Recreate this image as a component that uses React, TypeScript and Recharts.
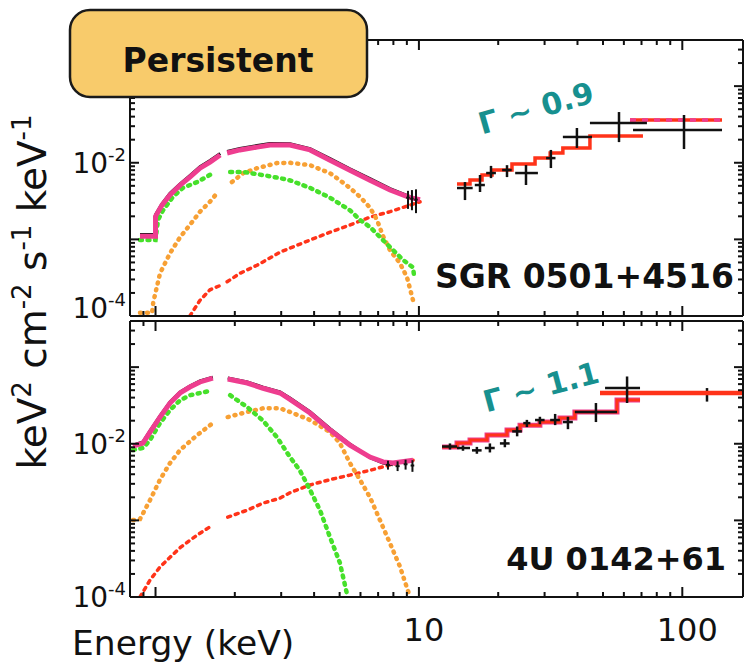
import React from 'react';
import { ComposedChart, Line, Scatter, XAxis, YAxis, ErrorBar } from 'recharts';

type Pt = [number, number | null];
type ErrPt = [number, number, number, number, number, number]; // e, v, eLo, eHi, vLo, vHi

// ---------- axes ----------
const xDomain = [0.8, 170];
const yDomain = [0.0001, 0.4];
const xTicks = [0.8, 0.9, 1, 2, 3, 4, 5, 6, 7, 8, 9, 10, 20, 30, 40, 50, 60, 70, 80, 90, 100];
const xMajorTicks = [1, 10, 100];
const xTickLabels = [10, 100];
const yTicks = [
  0.0001, 0.0002, 0.0003, 0.0004, 0.0005, 0.0006, 0.0007, 0.0008, 0.0009,
  0.001, 0.002, 0.003, 0.004, 0.005, 0.006, 0.007, 0.008, 0.009,
  0.01, 0.02, 0.03, 0.04, 0.05, 0.06, 0.07, 0.08, 0.09,
  0.1, 0.2, 0.3, 0.4,
];
const yMajorTicks = [0.0001, 0.001, 0.01, 0.1];
const yTickLabels = [0.01, 0.0001];
const yTickExponents = ['-2', '-4'];

// ---------- SGR 0501+4516 (top) ----------
const sgrData: Pt[] = [
  [0.873, 0.00116], [1.0, 0.00116], [1.0, 0.0021], [1.058, 0.0029], [1.135, 0.004], [1.24, 0.0053],
  [1.35, 0.0068], [1.475, 0.0089], [1.61, 0.0107], [1.76, 0.0132], [1.8, null], [1.87, 0.014],
  [2.09, 0.0154], [2.43, 0.0168], [2.72, 0.0178], [3.24, 0.0177], [3.86, 0.0153], [4.6, 0.0113],
  [5.47, 0.0083], [6.52, 0.0062], [7.77, 0.0046], [9.25, 0.0036],
];
const sgrTotal: Pt[] = [
  [0.873, 0.0011], [1.0, 0.0011], [1.0, 0.002], [1.058, 0.0028], [1.135, 0.0038], [1.24, 0.0051],
  [1.35, 0.0065], [1.475, 0.0085], [1.61, 0.0102], [1.76, 0.0126], [1.8, null], [1.87, 0.0134],
  [2.09, 0.0147], [2.43, 0.016], [2.72, 0.017], [3.24, 0.017], [3.86, 0.0147], [4.6, 0.0108],
  [5.47, 0.008], [6.52, 0.0059], [7.77, 0.0044], [9.25, 0.0035], [10.1, 0.0033],
];
const sgrGreen: Pt[] = [
  [0.873, 0.00098], [1.0, 0.00098], [1.022, 0.0018], [1.068, 0.0024], [1.165, 0.0036], [1.27, 0.0047],
  [1.44, 0.0056], [1.65, 0.0073], [1.8, null], [1.92, 0.0076], [2.15, 0.0076], [2.56, 0.0069],
  [2.97, 0.0063], [3.24, 0.0059], [3.86, 0.0047], [4.6, 0.0035], [5.47, 0.0024], [5.97, 0.0018],
  [6.52, 0.00145], [7.12, 0.00107], [7.77, 0.00079], [8.7, 0.00054], [9.5, 0.00043], [9.6, 0.00032],
];
const sgrOrange: Pt[] = [
  [0.873, 0.00011], [0.97, 0.00011], [0.98, 0.00015], [1.04, 0.00036], [1.135, 0.00066], [1.24, 0.00107],
  [1.35, 0.00154], [1.475, 0.0023], [1.61, 0.0031], [1.73, 0.0042], [1.8, null], [1.95, 0.0056],
  [2.15, 0.0073], [2.43, 0.0085], [2.89, 0.0099], [3.24, 0.01], [3.86, 0.0093], [4.6, 0.0073],
  [5.01, 0.0059], [5.47, 0.0047], [5.97, 0.0036], [6.52, 0.0026], [6.93, 0.0018], [7.31, 0.0011],
  [7.77, 0.00072], [8.47, 0.00049], [9.01, 0.00032], [9.5, 0.00016],
];
const sgrRed: Pt[] = [
  [1.35, 0.0001], [1.475, 0.00016], [1.61, 0.00022], [1.76, 0.00025], [1.8, null], [1.87, 0.00028],
  [2.09, 0.00036], [2.43, 0.00046], [2.97, 0.00068], [3.24, 0.00077], [3.86, 0.00098], [4.6, 0.00124],
  [5.47, 0.00154], [6.52, 0.00195], [7.77, 0.0023], [9.25, 0.0028], [10.1, 0.0031],
];
const sgrXisEdge: ErrPt[] = [
  [9.09, 0.0035, 8.95, 9.23, 0.0025, 0.0043],
  [9.41, 0.0034, 9.27, 9.55, 0.0024, 0.0044],
  [9.75, 0.0033, 9.6, 9.9, 0.0022, 0.0045],
];
const sgrHxdModel: Pt[] = [
  [13.95, 0.00527], [15.63, 0.00594], [17.36, 0.00692], [18.95, 0.00803], [22.56, 0.0096],
  [27.6, 0.0115], [31.5, 0.0134], [35.2, 0.0156], [44.6, 0.0223], [70.9, 0.0223],
];
const sgrHxdTop: Pt[] = [[63.3, 0.0361], [141.5, 0.0361]];
const sgrHxdPoints: ErrPt[] = [
  [14.96, 0.00468, 13.95, 16.0, 0.00326, 0.0056],
  [17.06, 0.00512, 16.3, 17.8, 0.00415, 0.00692],
  [18.78, 0.00734, 18.0, 19.6, 0.0063, 0.0091],
  [21.6, 0.00803, 20.7, 22.5, 0.0065, 0.0093],
  [25.5, 0.00734, 23.2, 28.3, 0.00512, 0.00933],
  [31.7, 0.0115, 30.4, 33.0, 0.00853, 0.0147],
  [39.8, 0.0217, 35.2, 45.4, 0.0156, 0.0284],
  [57.5, 0.033, 44.6, 73.4, 0.0186, 0.0459],
  [101.5, 0.0267, 65.0, 141.5, 0.0151, 0.042],
];

// ---------- 4U 0142+61 (bottom) ----------
const u4Data: Pt[] = [
  [0.821, 0.0096], [0.896, 0.0106], [0.953, 0.0147], [1.04, 0.0231], [1.135, 0.0352], [1.24, 0.0475],
  [1.35, 0.0568], [1.475, 0.066], [1.65, 0.0742], [1.75, null], [1.88, 0.0722], [2.23, 0.064],
  [2.56, 0.0548], [2.97, 0.0476], [3.24, 0.0394], [3.86, 0.0262], [4.6, 0.0157], [5.47, 0.0099],
  [6.52, 0.0066], [7.31, 0.0056], [7.97, 0.0053],
];
const u4Total: Pt[] = [
  [0.821, 0.0093], [0.896, 0.0102], [0.953, 0.0142], [1.04, 0.0223], [1.135, 0.034], [1.24, 0.046],
  [1.35, 0.055], [1.475, 0.064], [1.65, 0.072], [1.75, null], [1.88, 0.07], [2.23, 0.062],
  [2.56, 0.053], [2.97, 0.046], [3.24, 0.038], [3.86, 0.0252], [4.6, 0.0151], [5.47, 0.0096],
  [6.52, 0.0067], [7.31, 0.0058], [7.97, 0.0056], [9.5, 0.0061],
];
const u4Green: Pt[] = [
  [0.821, 0.0083], [0.896, 0.0088], [0.953, 0.0112], [1.04, 0.0186], [1.135, 0.0275], [1.24, 0.037],
  [1.35, 0.043], [1.61, 0.049], [1.75, null], [1.92, 0.043], [2.23, 0.03], [2.56, 0.02], [2.89, 0.0122],
  [3.24, 0.0067], [3.53, 0.0045], [3.86, 0.0025], [4.21, 0.00136], [4.6, 0.0006], [5.01, 0.00028],
  [5.33, 0.00011],
];
const u4Orange: Pt[] = [
  [0.821, 0.00101], [0.873, 0.00104], [0.953, 0.00184], [1.04, 0.0034], [1.135, 0.0056], [1.24, 0.0083],
  [1.44, 0.013], [1.65, 0.0186], [1.75, null], [1.88, 0.0223], [2.23, 0.026], [2.56, 0.029],
  [2.97, 0.029], [3.24, 0.026], [3.86, 0.0204], [4.6, 0.0142], [5.01, 0.0102], [5.47, 0.0056],
  [5.97, 0.0034], [6.52, 0.002], [7.12, 0.001], [7.77, 0.0005], [8.47, 0.00025], [9.25, 0.0001],
];
const u4Red: Pt[] = [
  [0.873, 0.0001], [0.953, 0.000166], [1.04, 0.000246], [1.135, 0.00033], [1.24, 0.00044],
  [1.35, 0.00055], [1.475, 0.00068], [1.65, 0.00087], [1.75, null], [1.88, 0.0011], [2.23, 0.00136],
  [2.56, 0.00168], [2.97, 0.00195], [3.24, 0.0023], [3.86, 0.0029], [4.6, 0.0034], [5.47, 0.0039],
  [6.52, 0.0045], [7.77, 0.0053], [9.5, 0.0061],
];
const u4XisEdge: ErrPt[] = [
  [7.63, 0.0053, 7.5, 7.76, 0.0046, 0.006],
  [8.3, 0.0051, 8.15, 8.45, 0.0044, 0.0059],
  [8.9, 0.0054, 8.75, 9.05, 0.0046, 0.0062],
  [9.45, 0.0052, 9.3, 9.6, 0.0043, 0.0061],
];
const u4HxdModel: Pt[] = [
  [12.24, 0.00906], [13.95, 0.0102], [15.63, 0.0112], [18.14, 0.013], [21.6, 0.0151], [24.2, 0.0175],
  [28.8, 0.0192], [34.3, 0.0217], [39.1, 0.026], [56.5, 0.0372], [69.1, 0.0372],
];
const u4HxdFlat: Pt[] = [[48.7, 0.0459], [170, 0.0459]];
const u4HxdPoints: ErrPt[] = [
  [13.12, 0.0092, 12.24, 13.95, 0.0084, 0.0101],
  [14.7, 0.0088, 13.95, 15.63, 0.0081, 0.0095],
  [16.6, 0.0082, 15.9, 17.3, 0.0074, 0.0091],
  [18.6, 0.0088, 17.8, 19.4, 0.0077, 0.0101],
  [21.2, 0.0101, 20.3, 22.1, 0.009, 0.0115],
  [23.6, 0.0145, 22.6, 24.6, 0.0125, 0.0168],
  [25.7, 0.0186, 24.9, 26.5, 0.0165, 0.0205],
  [28.8, 0.0204, 27.6, 30.0, 0.018, 0.0225],
  [32.9, 0.0204, 31.5, 34.3, 0.0175, 0.0245],
  [36.8, 0.0192, 35.2, 38.4, 0.0155, 0.0225],
  [47.0, 0.026, 39.1, 56.5, 0.0192, 0.034],
  [61.7, 0.0533, 50.9, 69.1, 0.034, 0.0755],
];
const u4HxdLast: ErrPt[] = [[124.1, 0.0459, 69.1, 170, 0.0355, 0.0533]];

// ---------- helpers ----------
const rows = (pts: Pt[]) => pts.map(([e, v]) => ({ e, v }));
const errRows = (pts: ErrPt[]) =>
  pts.map(([e, v, eLo, eHi, vLo, vHi]) => ({ e, v, ex: [e - eLo, eHi - e], ey: [v - vLo, vHi - v] }));

const W = 747;
const H = 667;
const FONT = 'DejaVu Sans, Liberation Sans, sans-serif';
const INK = '#111';
const C_TOTAL = '#ee3d8f';
const C_GREEN = '#46e02a';
const C_ORANGE = '#f7a034';
const C_RED = '#ff3319';
const C_TEAL = '#17908f';

const EmptyShape = () => <g />;

const bottomTick = (showLabels: boolean) => (p: any) => {
  const v = p.payload.value;
  const len = xMajorTicks.includes(v) ? 10 : 5;
  return (
    <g>
      <line x1={p.x} x2={p.x} y1={p.y} y2={p.y - len} stroke={INK} strokeWidth={2} />
      {showLabels && xTickLabels.includes(v) ? (
        <text x={p.x + 5} y={p.y + 44} textAnchor="middle" fontFamily={FONT} fontSize={32} fill={INK}>
          {v}
        </text>
      ) : null}
    </g>
  );
};
const topTick = (p: any) => {
  const v = p.payload.value;
  const len = xMajorTicks.includes(v) ? 10 : 5;
  return <line x1={p.x} x2={p.x} y1={p.y} y2={p.y + len} stroke={INK} strokeWidth={2} />;
};
const leftTick = (isTop: boolean) => (p: any) => {
  const v = p.payload.value;
  const len = yMajorTicks.includes(v) ? 9 : 5;
  const li = yTickLabels.indexOf(v);
  const dy = isTop && v === 0.0001 ? 2 : 10;
  return (
    <g>
      <line x1={p.x} x2={p.x + len} y1={p.y} y2={p.y} stroke={INK} strokeWidth={2} />
      {li >= 0 ? (
        <text x={p.x - 4} y={p.y + dy} textAnchor="end" fontFamily={FONT} fontSize={28} fill={INK}>
          10<tspan dy={-12} fontSize={18}>{yTickExponents[li]}</tspan>
        </text>
      ) : null}
    </g>
  );
};
const rightTick = (p: any) => {
  const v = p.payload.value;
  const len = yMajorTicks.includes(v) ? 9 : 5;
  return <line x1={p.x} x2={p.x - len} y1={p.y} y2={p.y} stroke={INK} strokeWidth={2} />;
};

const axisLine = { stroke: INK, strokeWidth: 2 };

const axes = (isTop: boolean) => [
  <XAxis key="xb" xAxisId={0} dataKey="e" type="number" scale="log" domain={xDomain} allowDataOverflow
    ticks={xTicks} interval={0} tick={bottomTick(!isTop)} tickLine={false} tickSize={0} tickMargin={0}
    axisLine={axisLine} height={1} />,
  <XAxis key="xt" xAxisId="top" orientation="top" dataKey="e" type="number" scale="log" domain={xDomain}
    allowDataOverflow ticks={xTicks} interval={0} tick={topTick} tickLine={false} tickSize={0} tickMargin={0}
    axisLine={axisLine} height={1} />,
  <YAxis key="yl" yAxisId={0} type="number" scale="log" domain={yDomain} allowDataOverflow ticks={yTicks}
    interval={0} tick={leftTick(isTop)} tickLine={false} tickSize={0} tickMargin={0} axisLine={axisLine} width={1} />,
  <YAxis key="yr" yAxisId="right" orientation="right" type="number" scale="log" domain={yDomain} allowDataOverflow
    ticks={yTicks} interval={0} tick={rightTick} tickLine={false} tickSize={0} tickMargin={0} axisLine={axisLine} width={1} />,
];

const line = (key: string, data: Pt[], stroke: string, width: number, extra: any = {}) => (
  <Line key={key} data={rows(data)} dataKey="v" type="linear" stroke={stroke} strokeWidth={width}
    dot={false} activeDot={false} isAnimationActive={false} legendType="none" {...extra} />
);
const dotted = (key: string, data: Pt[], stroke: string, dash: string, width: number) =>
  line(key, data, stroke, width, { strokeDasharray: dash, strokeLinecap: 'round' });
const crosses = (key: string, data: ErrPt[], width = 2.5) => (
  <Scatter key={key} data={errRows(data)} dataKey="v" shape={EmptyShape} isAnimationActive={false} legendType="none">
    <ErrorBar dataKey="ex" direction="x" width={0} stroke={INK} strokeWidth={width} isAnimationActive={false} />
    <ErrorBar dataKey="ey" direction="y" width={0} stroke={INK} strokeWidth={width} isAnimationActive={false} />
  </Scatter>
);

// plot area: top panel y 40..316, bottom panel y 321..597, x 130..743 (axis bands of 1px sit in the margins)
function TopChart() {
  return (
    <ComposedChart width={W} height={H} margin={{ top: 39, right: 3, bottom: 350, left: 129 }}>
      {axes(true)}
      {dotted('sr', sgrRed, C_RED, '3 5', 3.5)}
      {dotted('so', sgrOrange, C_ORANGE, '1 6', 4.5)}
      {dotted('sg', sgrGreen, C_GREEN, '2 5.5', 4.5)}
      {line('sd', sgrData, INK, 3)}
      {line('st', sgrTotal, C_TOTAL, 5)}
      {crosses('se', sgrXisEdge, 2)}
      {line('shm', sgrHxdModel, C_RED, 3.5, { type: 'stepAfter' })}
      {line('sht', sgrHxdTop, C_RED, 3.5)}
      {line('shd', sgrHxdTop, C_TOTAL, 3.5, { strokeDasharray: '6 6' })}
      {crosses('shp', sgrHxdPoints)}
    </ComposedChart>
  );
}

function BottomChart() {
  return (
    <ComposedChart width={W} height={H} margin={{ top: 320, right: 3, bottom: 69, left: 129 }}>
      {axes(false)}
      {dotted('ur', u4Red, C_RED, '3 5', 3.5)}
      {dotted('uo', u4Orange, C_ORANGE, '1 6', 4.5)}
      {dotted('ug', u4Green, C_GREEN, '2 5.5', 4.5)}
      {line('ud', u4Data, INK, 3)}
      {line('ut', u4Total, C_TOTAL, 5)}
      {crosses('ue', u4XisEdge, 2)}
      {crosses('ul', u4HxdLast)}
      {line('uhp', u4HxdModel, C_TOTAL, 5, { type: 'stepAfter' })}
      {line('uhm', u4HxdModel, C_RED, 3, { type: 'stepAfter' })}
      {line('uhf', u4HxdFlat, C_RED, 4.5)}
      {crosses('uhx', u4HxdPoints)}
    </ComposedChart>
  );
}

export default function App() {
  const sup = (t: string) => (
    <tspan dy={-15} fontSize={26}>{t}</tspan>
  );
  return (
    <div style={{ position: 'absolute', left: 0, top: 0, width: W, height: H, background: '#fff' }}>
      <div style={{ position: 'absolute', left: 0, top: 0 }}>
        <TopChart />
      </div>
      <div style={{ position: 'absolute', left: 0, top: 0 }}>
        <BottomChart />
      </div>
      <svg width={W} height={H} style={{ position: 'absolute', left: 0, top: 0, pointerEvents: 'none' }}>
        <rect x={70} y={10} width={297} height={87} rx={20} ry={20} fill="#f8cb6b" stroke="#1a1a1a" strokeWidth={2.5} />
        <text x={218} y={72} textAnchor="middle" fontFamily={FONT} fontWeight="bold" fontSize={33} fill={INK}>
          Persistent
        </text>
        <text transform="translate(46,292) rotate(-90)" textAnchor="middle" fontFamily={FONT} fontSize={39} fill={INK}>
          keV{sup('2')}
          <tspan dy={15}>{' cm'}</tspan>
          {sup('-2')}
          <tspan dy={15}>{' s'}</tspan>
          {sup('-1')}
          <tspan dy={15}>{' keV'}</tspan>
          {sup('-1')}
        </text>
        <text x={72} y={655} fontFamily={FONT} fontSize={34.5} fill={INK}>
          Energy (keV)
        </text>
        <text x={734} y={288} textAnchor="end" fontFamily={FONT} fontWeight="bold" fontSize={33} fill={INK}>
          SGR 0501+4516
        </text>
        <text x={726} y={570} textAnchor="end" fontFamily={FONT} fontWeight="bold" fontSize={32} fill={INK}>
          4U 0142+61
        </text>
        <text transform="translate(536,108) rotate(-16)" textAnchor="middle" dominantBaseline="central"
          fontFamily={FONT} fontWeight="bold" fontSize={30} fill={C_TEAL}>
          Γ ~ 0.9
        </text>
        <text transform="translate(541,387) rotate(-15)" textAnchor="middle" dominantBaseline="central"
          fontFamily={FONT} fontWeight="bold" fontSize={30} fill={C_TEAL}>
          Γ ~ 1.1
        </text>
      </svg>
    </div>
  );
}
